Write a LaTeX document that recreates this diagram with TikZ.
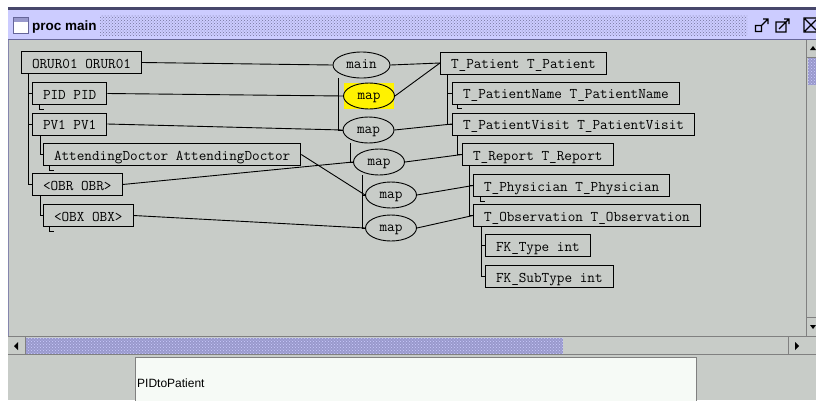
\documentclass[tikz,border=0pt]{standalone}
\usepackage{fontspec}
\setmainfont{Liberation Sans}
\newfontfamily\uifont{Liberation Sans}
\usetikzlibrary{shapes.geometric,patterns}
\definecolor{canvas}{RGB}{200,204,200}
\definecolor{lav}{RGB}{204,204,255}
\definecolor{lavdark}{RGB}{153,153,204}
\definecolor{frame}{RGB}{102,102,153}
\definecolor{field}{RGB}{246,250,246}

\begin{document}
\begin{tikzpicture}[x=1pt, y=-1pt, every node/.style={font=\fontsize{14.8}{16}\ttfamily}, box/.style={draw, line width=1pt, anchor=west, inner xsep=10.5pt, inner ysep=0pt, minimum height=22pt, text height=11pt, text depth=0pt}, op/.style={draw, ellipse, line width=0.9pt, minimum width=51pt, minimum height=26pt, inner sep=0pt, text height=8pt, text depth=1pt}, ln/.style={line width=0.9pt}]
	\useasboundingbox (0,0) rectangle (816,400);
	% window frame, title bar, scrollbars
	\fill[white] (0,0) rectangle (816,400);
	\fill[frame!70!black] (8,7) rectangle (816,10);
	\fill[lav] (8,10) rectangle (816,39);
	\fill[pattern=crosshatch dots, pattern color=lavdark!75!black] (100,15) rectangle (747,35);
	\draw[frame] (8,39.5) -- (816,39.5);
	\filldraw[fill=white, draw=frame] (13.5,17.5) rectangle (28.5,33.5);
	\fill[lavdark] (14,18) rectangle (28,21.5);
	\node[font=\uifont\bfseries\fontsize{13.5}{15}\selectfont, anchor=base west, inner sep=0pt] (title) at (32,30) {proc main};
	\draw[line width=1.2pt] (755.5,25.5) rectangle (761.5,31.5) (761,26) -- (768,19) (763,19) -- (768,19) -- (768,24);
	\draw[line width=1.2pt] (776,22) rectangle (786,32) (779,29) -- (789,19) (784,19) -- (789,19) -- (789,24);
	\draw[line width=1.2pt] (804,18) rectangle (818,32) (805,19) -- (817,31) (805,31) -- (817,19);
	\fill[canvas] (8,40) rectangle (816,400);
	\draw[frame!80] (8.5,40) -- (8.5,337);
	\draw[gray] (806.5,40) -- (806.5,337) (8,336.5) -- (816,336.5) (8,354.5) -- (816,354.5);
	\fill[lavdark] (808,57) rectangle (816,85);
	\fill[pattern=crosshatch dots, pattern color=lav] (808,57) rectangle (816,85);
	\draw[gray] (807,57) -- (816,57) (807,317) -- (816,317);
	\fill (810,50) -- (816,50) -- (813,46) -- cycle;
	\fill (810,325) -- (816,325) -- (813,329) -- cycle;
	\draw[gray] (25.5,337) -- (25.5,354) (788.5,337) -- (788.5,354);
	\fill[lavdark] (26,337.5) rectangle (563,353.5);
	\fill[pattern=crosshatch dots, pattern color=lav] (26,337.5) rectangle (563,353.5);
	\fill (18,342) -- (18,350) -- (14,346) -- cycle;
	\fill (795,342) -- (795,350) -- (799,346) -- cycle;
	\filldraw[fill=field, draw=gray] (135.5,357.5) rectangle (696.5,401);
	\node[font=\uifont\fontsize{12}{14}\selectfont, anchor=base west, inner sep=0pt] (func) at (137,387) {PIDtoPatient};
	% source tree
	\node[box] (orur) at (21,62.5) {ORUR01 ORUR01};
	\node[box] (pid) at (32,93.5) {PID PID};
	\node[box] (pv1) at (32,124) {PV1 PV1};
	\node[box] (attend) at (43,154.5) {AttendingDoctor AttendingDoctor};
	\node[box] (obr) at (32,184.5) {<OBR OBR>};
	\node[box] (obx) at (43,215.5) {<OBX OBX>};
	% target tree
	\node[box] (tpat) at (440,63) {T\_Patient T\_Patient};
	\node[box] (tname) at (452,93) {T\_PatientName T\_PatientName};
	\node[box] (tvisit) at (452,124) {T\_PatientVisit T\_PatientVisit};
	\node[box] (treport) at (462,154.5) {T\_Report T\_Report};
	\node[box] (tphys) at (473,185.5) {T\_Physician T\_Physician};
	\node[box] (tobs) at (473,215.5) {T\_Observation T\_Observation};
	\node[box] (fktype) at (485,245.5) {FK\_Type int};
	\node[box] (fksub) at (485,276.5) {FK\_SubType int};
	% maps
	\node[op, minimum width=57pt] (main) at (361.5,65) {main};
	\node[fill=yellow, minimum width=50pt, minimum height=26pt, inner sep=0pt] (sel) at (369,96) {};
	\node[op, fill=yellow] (map1) at (369,96) {map};
	\node[op] (map2) at (368.5,130) {map};
	\node[op] (map3) at (379,162) {map};
	\node[op] (map4) at (391,195) {map};
	\node[op] (map5) at (391,228) {map};
	\foreach \a/\b in {orur/main, main/tpat, pid/map1, map1/tpat, pv1/map2, map2/tvisit, attend/map4, obr/map3, map3/treport, map4/tphys, obx/map5, map5/tobs} {\draw[ln] (\a.east) -- (\b.west);}
	\foreach \p/\c/\o in {orur/pid/7, orur/pv1/7, orur/obr/7, pv1/attend/8, obr/obx/8, tpat/tname/7, tpat/tvisit/7, tvisit/treport/5, treport/tphys/7, treport/tobs/7, tobs/fktype/8, tobs/fksub/8} {\draw[ln] ([xshift=\o pt]\p.south west) |- (\c.west);}
	\foreach \n/\o in {pid/7, attend/6, obx/6, tname/5, tphys/7} {\draw[ln] ([xshift=\o pt]\n.south west) -- ++(0,4) -- ++(5,0);}
	\draw[ln] ([xshift=6pt]main.west |- main.south) |- (map2.west);
	\draw[ln] ([xshift=8pt]map2.west |- map2.south) |- (map3.west);
	\draw[ln] ([xshift=9pt]map3.west |- map3.south) |- (map5.west);
	\draw[ln] ([xshift=9pt]map3.west |- map4.west) -- (map4.west);
\end{tikzpicture}
\end{document}
